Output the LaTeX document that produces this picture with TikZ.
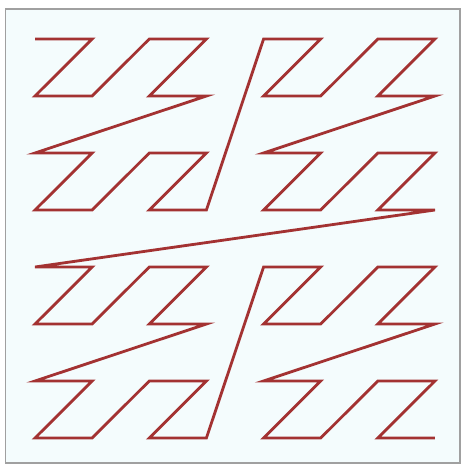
\documentclass[tikz,border=0pt]{standalone}
\definecolor{curvered}{RGB}{163,50,50}
\definecolor{panel}{RGB}{244,252,253}
\definecolor{frame}{RGB}{160,160,160}
\tikzset{
  curve/.style={draw=curvered, line width=2.8pt, line join=miter},
  panelbox/.style={draw=frame, fill=panel, line width=1.6pt}
}
\begin{document}
\begin{tikzpicture}[x=1pt,y=-1pt]
\useasboundingbox (0,0) rectangle (461,465);
\draw[panelbox] (5.5,9) rectangle (460,463);
\foreach \n in {0,...,63}{
  \pgfmathtruncatemacro{\cx}{mod(\n,2)+2*mod(floor(\n/4),2)+4*mod(floor(\n/16),2)}
  \pgfmathtruncatemacro{\cy}{mod(floor(\n/2),2)+2*mod(floor(\n/8),2)+4*mod(floor(\n/32),2)}
  \coordinate (p\n) at ({35+57.14*\cx},{39+57*\cy});
}
\draw[curve] (p0) foreach \i in {1,...,63}{ -- (p\i) };
\end{tikzpicture}
\end{document}
